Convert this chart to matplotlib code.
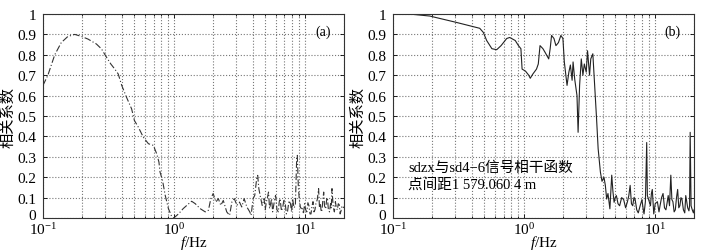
import matplotlib
matplotlib.use("Agg")
import matplotlib.pyplot as plt
import matplotlib.transforms as mtransforms
from matplotlib.ticker import LogLocator, FixedLocator, NullFormatter

plt.rcParams['font.family'] = ['Liberation Serif', 'Noto Sans CJK SC']
plt.rcParams['mathtext.fontset'] = 'custom'
plt.rcParams['mathtext.rm'] = 'Liberation Serif'
plt.rcParams['mathtext.it'] = 'Liberation Serif:italic'

# Panel (a) data
freq_a = [0.100, 0.109, 0.123, 0.138, 0.155, 0.175, 0.197, 0.221, 0.256, 0.280,
          0.306, 0.330, 0.354, 0.376, 0.400, 0.435, 0.476, 0.500, 0.536, 0.585,
          0.640, 0.698, 0.740, 0.770, 0.785, 0.820, 0.860, 0.910, 0.960, 1.000,
          1.09, 1.18, 1.30, 1.37, 1.46, 1.59, 1.74, 1.84, 1.92, 2.00,
          2.10, 2.19, 2.29, 2.39, 2.54, 2.67, 2.78, 2.90, 3.04, 3.18,
          3.31, 3.45, 3.62, 3.81, 3.90, 4.04, 4.16, 4.30, 4.38, 4.47,
          4.57, 4.74, 4.90, 5.00, 5.10, 5.20, 5.30, 5.40, 5.50, 5.60,
          5.70, 5.80, 5.90, 6.00, 6.15, 6.30, 6.40, 6.50, 6.65, 6.80,
          6.95, 7.10, 7.25, 7.40, 7.60, 7.80, 7.95, 8.10, 8.30, 8.50,
          8.70, 8.80, 8.95, 9.10, 9.30, 9.60, 9.80, 10.0, 10.2, 10.4,
          10.6, 10.8, 11.0, 11.2, 11.4, 11.6, 11.8, 12.0, 12.2, 12.5,
          12.8, 13.0, 13.2, 13.4, 13.6, 13.8, 14.0, 14.2, 14.5, 14.8,
          15.0, 15.2, 15.5, 15.8, 16.0, 16.2, 16.4, 16.6, 16.9, 17.2,
          17.5, 17.8, 18.1, 18.4, 18.7, 19.0, 19.3, 19.6, 20.0]
coh_a = [0.65, 0.70, 0.80, 0.86, 0.89, 0.90, 0.89, 0.877, 0.853, 0.829,
         0.788, 0.755, 0.73, 0.706, 0.65, 0.592, 0.535, 0.478, 0.445, 0.396,
         0.364, 0.356, 0.315, 0.274, 0.225, 0.184, 0.111, 0.046, 0.01, 0.0,
         0.021, 0.046, 0.07, 0.082, 0.07, 0.046, 0.03, 0.038, 0.095, 0.12,
         0.078, 0.095, 0.062, 0.086, 0.03, 0.013, 0.078, 0.095, 0.062, 0.078,
         0.054, 0.095, 0.054, 0.03, 0.013, 0.095, 0.111, 0.192, 0.209, 0.144,
         0.111, 0.062, 0.095, 0.04, 0.078, 0.10, 0.127, 0.046, 0.07, 0.095,
         0.03, 0.062, 0.09, 0.111, 0.04, 0.03, 0.08, 0.095, 0.035, 0.05,
         0.09, 0.078, 0.02, 0.03, 0.085, 0.07, 0.03, 0.095, 0.05, 0.06,
         0.29, 0.307, 0.16, 0.095, 0.05, 0.046, 0.02, 0.07, 0.04, 0.03,
         0.075, 0.06, 0.02, 0.02, 0.06, 0.08, 0.03, 0.04, 0.07, 0.09,
         0.144, 0.05, 0.07, 0.03, 0.04, 0.09, 0.127, 0.06, 0.045, 0.10,
         0.09, 0.04, 0.03, 0.07, 0.05, 0.144, 0.09, 0.05, 0.03, 0.08,
         0.05, 0.04, 0.07, 0.065, 0.02, 0.035, 0.06, 0.055, 0.05]

# Panel (b) data
freq_b = [0.133, 0.191, 0.300, 0.460, 0.490, 0.520, 0.570, 0.620, 0.670, 0.740,
          0.780, 0.860, 0.910, 0.950, 0.970, 1.03, 1.09, 1.12, 1.17, 1.25,
          1.29, 1.33, 1.40, 1.46, 1.55, 1.59, 1.63, 1.70, 1.76, 1.84,
          1.92, 1.99, 2.04, 2.14, 2.21, 2.27, 2.34, 2.38, 2.45, 2.55,
          2.60, 2.67, 2.75, 2.83, 2.90, 3.00, 3.07, 3.18, 3.25, 3.37,
          3.48, 3.60, 3.70, 3.85, 3.96, 4.10, 4.20, 4.30, 4.40, 4.55,
          4.70, 4.80, 4.90, 5.00, 5.10, 5.25, 5.40, 5.60, 5.80, 6.00,
          6.20, 6.35, 6.50, 6.65, 6.80, 6.95, 7.10, 7.30, 7.50, 7.75,
          8.00, 8.15, 8.30, 8.50, 8.70, 8.80, 9.00, 9.30, 9.45, 9.60,
          9.85, 10.1, 10.5, 10.8, 11.0, 11.3, 11.6, 11.9, 12.2, 12.5,
          12.7, 13.0, 13.3, 13.55, 13.8, 14.1, 14.4, 14.7, 15.0, 15.3,
          15.6, 15.9, 16.2, 16.6, 17.0, 17.3, 17.6, 17.9, 18.3, 18.5,
          18.7, 19.0, 19.4, 19.8, 20.0]
coh_b = [1.0, 0.99, 0.96, 0.93, 0.91, 0.87, 0.83, 0.825, 0.845, 0.88,
         0.885, 0.87, 0.845, 0.83, 0.73, 0.72, 0.70, 0.685, 0.705, 0.73,
         0.755, 0.845, 0.83, 0.81, 0.78, 0.83, 0.895, 0.88, 0.845, 0.86,
         0.895, 0.88, 0.765, 0.65, 0.715, 0.75, 0.675, 0.765, 0.68, 0.60,
         0.42, 0.65, 0.78, 0.70, 0.755, 0.715, 0.82, 0.70, 0.78, 0.805,
         0.65, 0.485, 0.34, 0.225, 0.18, 0.20, 0.16, 0.093, 0.12, 0.045,
         0.21, 0.13, 0.077, 0.10, 0.11, 0.07, 0.06, 0.10, 0.09, 0.05,
         0.08, 0.11, 0.16, 0.07, 0.06, 0.10, 0.09, 0.04, 0.025, 0.06,
         0.09, 0.05, 0.02, 0.08, 0.37, 0.11, 0.09, 0.06, 0.12, 0.14,
         0.02, 0.07, 0.08, 0.03, 0.06, 0.10, 0.12, 0.05, 0.04, 0.08,
         0.11, 0.06, 0.21, 0.09, 0.08, 0.03, 0.04, 0.10, 0.14, 0.05,
         0.06, 0.10, 0.09, 0.04, 0.025, 0.11, 0.08, 0.05, 0.035, 0.06,
         0.42, 0.06, 0.04, 0.025, 0.04]

panel_labels = ['(a)', '(b)']
y_ticks = [0, 0.1, 0.2, 0.3, 0.4, 0.5, 0.6, 0.7, 0.8, 0.9, 1]
y_ticklabels = ['0', '0.1', '0.2', '0.3', '0.4', '0.5', '0.6', '0.7', '0.8', '0.9', '1']
annot_lines = ['sdzx与sd4\u22126信号相干函数', '点间距1 579.060 4 m']

fig = plt.figure(figsize=(7.07, 2.51), dpi=100)
ax_a = fig.add_axes([0.0608, 0.1275, 0.4257, 0.8127])
ax_b = fig.add_axes([0.5559, 0.1275, 0.4257, 0.8127])

ax_a.plot(freq_a, coh_a, color='#333333', lw=0.8, linestyle=(0, (6, 2, 1, 2)))
ax_b.plot(freq_b, coh_b, color='#222222', lw=0.8)

shift_up = mtransforms.ScaledTranslation(0, 3 / 72, fig.dpi_scale_trans)

for ax, lab in zip([ax_a, ax_b], panel_labels):
    ax.set_xscale('log')
    ax.set_xlim(0.1, 20)
    ax.set_ylim(0, 1)
    ax.xaxis.set_major_locator(LogLocator(base=10, numticks=10))
    ax.xaxis.set_minor_locator(LogLocator(base=10, subs=range(2, 10), numticks=20))
    ax.xaxis.set_minor_formatter(NullFormatter())
    ax.yaxis.set_major_locator(FixedLocator(y_ticks))
    ax.set_yticklabels(y_ticklabels)
    ax.grid(True, which='major', color='#777777', linestyle=':', lw=0.8)
    ax.grid(True, which='minor', axis='x', color='#777777', linestyle=':', lw=0.8)
    ax.tick_params(which='both', direction='in', top=True, right=True,
                   labelsize=11, length=3, width=0.6)
    ax.tick_params(axis='y', pad=5)
    ax.tick_params(axis='x', pad=2)
    ax.tick_params(which='minor', length=1.5)
    for s in ax.spines.values():
        s.set_linewidth(0.8)
        s.set_color('#333333')
    ax.set_xlabel('$\\it{f}$/Hz', fontsize=11, labelpad=-3)
    ax.set_ylabel('相关系数', fontsize=11, labelpad=1)
    ax.text(0.955, 0.95, lab, transform=ax.transAxes, ha='right', va='top', fontsize=10)
    zero_lab = ax.get_yticklabels()[0]
    zero_lab.set_transform(zero_lab.get_transform() + shift_up)

ax_b.text(0.05, 0.135, annot_lines[0] + '\n' + annot_lines[1], transform=ax_b.transAxes,
          ha='left', va='bottom', fontsize=10.5, linespacing=1.2)

fig.savefig('out.png', dpi=100)
